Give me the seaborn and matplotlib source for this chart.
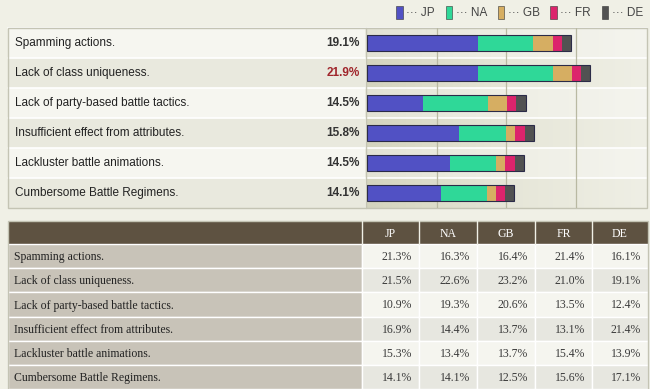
import numpy as np
import pandas as pd
import matplotlib.pyplot as plt
import seaborn as sns
from matplotlib.patches import Rectangle, Patch
from matplotlib.colors import LinearSegmentedColormap

# ------------------------------------------------------------
# Datos
# ------------------------------------------------------------
items = [
    "Spamming actions.",
    "Lack of class uniqueness.",
    "Lack of party-based battle tactics.",
    "Insufficient effect from attributes.",
    "Lackluster battle animations.",
    "Cumbersome Battle Regimens.",
]
overall = [19.1, 21.9, 14.5, 15.8, 14.5, 14.1]
regions = ["JP", "NA", "GB", "FR", "DE"]

# aporte de cada region a la barra
seg_jp = [10.5, 10.5, 5.3, 8.7, 7.8, 7.0]
seg_na = [5.2, 7.0, 6.1, 4.4, 4.4, 4.3]
seg_gb = [1.8, 1.8, 1.8, 0.9, 0.85, 0.9]
seg_fr = [0.85, 0.9, 0.9, 0.9, 0.9, 0.85]
seg_de = [0.9, 0.8, 0.9, 0.9, 0.9, 0.85]

# tabla inferior
tab_jp = [21.3, 21.5, 10.9, 16.9, 15.3, 14.1]
tab_na = [16.3, 22.6, 19.3, 14.4, 13.4, 14.1]
tab_gb = [16.4, 23.2, 20.6, 13.7, 13.7, 12.5]
tab_fr = [21.4, 21.0, 13.5, 13.1, 15.4, 15.6]
tab_de = [16.1, 19.1, 12.4, 21.4, 13.9, 17.1]

colores = {"JP": "#5151c4", "NA": "#2fd898", "GB": "#d6ae62",
           "FR": "#dc246c", "DE": "#525252"}

segs = pd.DataFrame({"item": items, "JP": seg_jp, "NA": seg_na, "GB": seg_gb,
                     "FR": seg_fr, "DE": seg_de})
cum = segs[regions].cumsum(axis=1)
cum["item"] = items
tabla = pd.DataFrame({"JP": tab_jp, "NA": tab_na, "GB": tab_gb,
                      "FR": tab_fr, "DE": tab_de}, index=items)

# ------------------------------------------------------------
# Figura
# ------------------------------------------------------------
sns.set_style("white")
W, H = 650, 389
fig = plt.figure(figsize=(W / 100, H / 100), dpi=100, facecolor="#f0f0e6")

bg = fig.add_axes([0, 0, 1, 1])
bg.set_xlim(0, W)
bg.set_ylim(H, 0)
bg.axis("off")

sans = ["Liberation Sans", "DejaVu Sans"]
serif = ["Liberation Serif", "DejaVu Serif"]

# --- panel superior ---
P_L, P_R, P_T, ROW = 8, 647, 28, 30
B_L = 367
n = len(items)
for i in range(n):
    y0 = P_T + i * ROW
    fc = "#f6f6f0" if i % 2 == 0 else "#e9e9de"
    bg.add_patch(Rectangle((P_L, y0), B_L - 2 - P_L, ROW, fc=fc, ec="none"))
grad = np.linspace(0, 1, 200).reshape(1, -1)
cmap = LinearSegmentedColormap.from_list("g", ["#d4d4be", "#e6e6d8", "#efefe5"])
bg.imshow(grad, cmap=cmap, extent=(B_L, P_R, P_T + n * ROW, P_T), aspect="auto",
          zorder=0)
for i in range(n):
    y0 = P_T + i * ROW
    if i % 2 == 0:
        bg.add_patch(Rectangle((B_L, y0), P_R - B_L, ROW, fc="white", alpha=0.35,
                               ec="none", zorder=1))
    bg.plot([P_L, P_R], [y0, y0], color="white", lw=1.2, zorder=2)
bg.add_patch(Rectangle((P_L, P_T), P_R - P_L, n * ROW, fc="none", ec="#c4c4b4",
                       lw=1, zorder=3))
bg.plot([B_L - 1, B_L - 1], [P_T, P_T + n * ROW], color="#c4c4b4", lw=1, zorder=3)

for i, (lab, v) in enumerate(zip(items, overall)):
    yc = P_T + i * ROW + ROW / 2
    bg.text(15, yc, lab, ha="left", va="center", fontsize=8.5, color="#222222",
            family=sans, zorder=4)
    col = "#a0262c" if v == max(overall) else "#333333"
    bg.text(360, yc, f"{v:.1f}%", ha="right", va="center", fontsize=8.5,
            fontweight="bold", color=col, family=sans, zorder=4)

# --- barras apiladas ---
ax = fig.add_axes([B_L / W, 1 - (P_T + n * ROW) / H, (P_R - B_L) / W, n * ROW / H])
ax.set_facecolor("none")
for r in reversed(regions):
    sns.barplot(data=cum, x=r, y="item", orient="h", color=colores[r],
                saturation=1, width=0.54, errorbar=None, linewidth=0, ax=ax)
sns.barplot(data=cum, x="DE", y="item", orient="h", fill=False, width=0.54,
            errorbar=None, color="#2b2b48", linewidth=0.8, ax=ax)
ax.set_xlim(0, (P_R - B_L) / 10.6)
ax.set_ylim(n - 0.5, -0.5)
ax.set_xticks([6.6, 13.15, 19.7])
ax.grid(axis="x", color="#b9b9a2", lw=0.9)
ax.set_axisbelow(True)
ax.tick_params(left=False, bottom=False, labelleft=False, labelbottom=False)
ax.set_xlabel("")
ax.set_ylabel("")
for s in ax.spines.values():
    s.set_visible(False)

# leyenda
handles = [Patch(facecolor=colores[r], edgecolor="#333333", lw=0.4) for r in regions]
fig.legend(handles, ["\u00b7\u00b7\u00b7 " + r for r in regions], loc="upper right",
           bbox_to_anchor=(643 / W, 1 - 6 / H), ncol=5, frameon=False,
           handlelength=0.55, handleheight=1.3, handletextpad=0.3,
           columnspacing=0.9, borderaxespad=0, borderpad=0,
           prop={"family": sans, "size": 8.5}, labelcolor="#444444")

# --- tabla inferior ---
T_T, HDR, TROW = 221, 23, 24.2
cols = [362, 419, 477, 535, 592, 648]
T_L = 8
bg.add_patch(Rectangle((T_L, T_T), cols[-1] - T_L, HDR, fc="#5e5241", ec="none"))
for j, r in enumerate(regions):
    bg.text((cols[j] + cols[j + 1]) / 2, T_T + HDR / 2 + 1, r, ha="center",
            va="center", color="white", fontsize=8.5, family=serif)
    bg.plot([cols[j], cols[j]], [T_T, T_T + HDR], color="#f0f0e6", lw=1)
for i, lab in enumerate(tabla.index):
    y0 = T_T + HDR + i * TROW
    bg.add_patch(Rectangle((T_L, y0), cols[0] - T_L, TROW, fc="#c8c3b8",
                           ec="white", lw=1))
    bg.text(14, y0 + TROW / 2 + 1, lab, ha="left", va="center", fontsize=8.5,
            color="#222222", family=serif)
    fc = "#f5f5ef" if i % 2 == 0 else "#e7e7e0"
    for j, r in enumerate(regions):
        bg.add_patch(Rectangle((cols[j], y0), cols[j + 1] - cols[j], TROW, fc=fc,
                               ec="white", lw=1))
        bg.text(cols[j + 1] - 7, y0 + TROW / 2 + 1, f"{tabla.loc[lab, r]:.1f}%",
                ha="right", va="center", fontsize=8.5, color="#3a3a3a",
                family=serif)
bg.add_patch(Rectangle((T_L, T_T), cols[-1] - T_L, H - T_T + 2, fc="none",
                       ec="#c4c4b4", lw=1))

fig.savefig("out.png", dpi=100, facecolor=fig.get_facecolor())
